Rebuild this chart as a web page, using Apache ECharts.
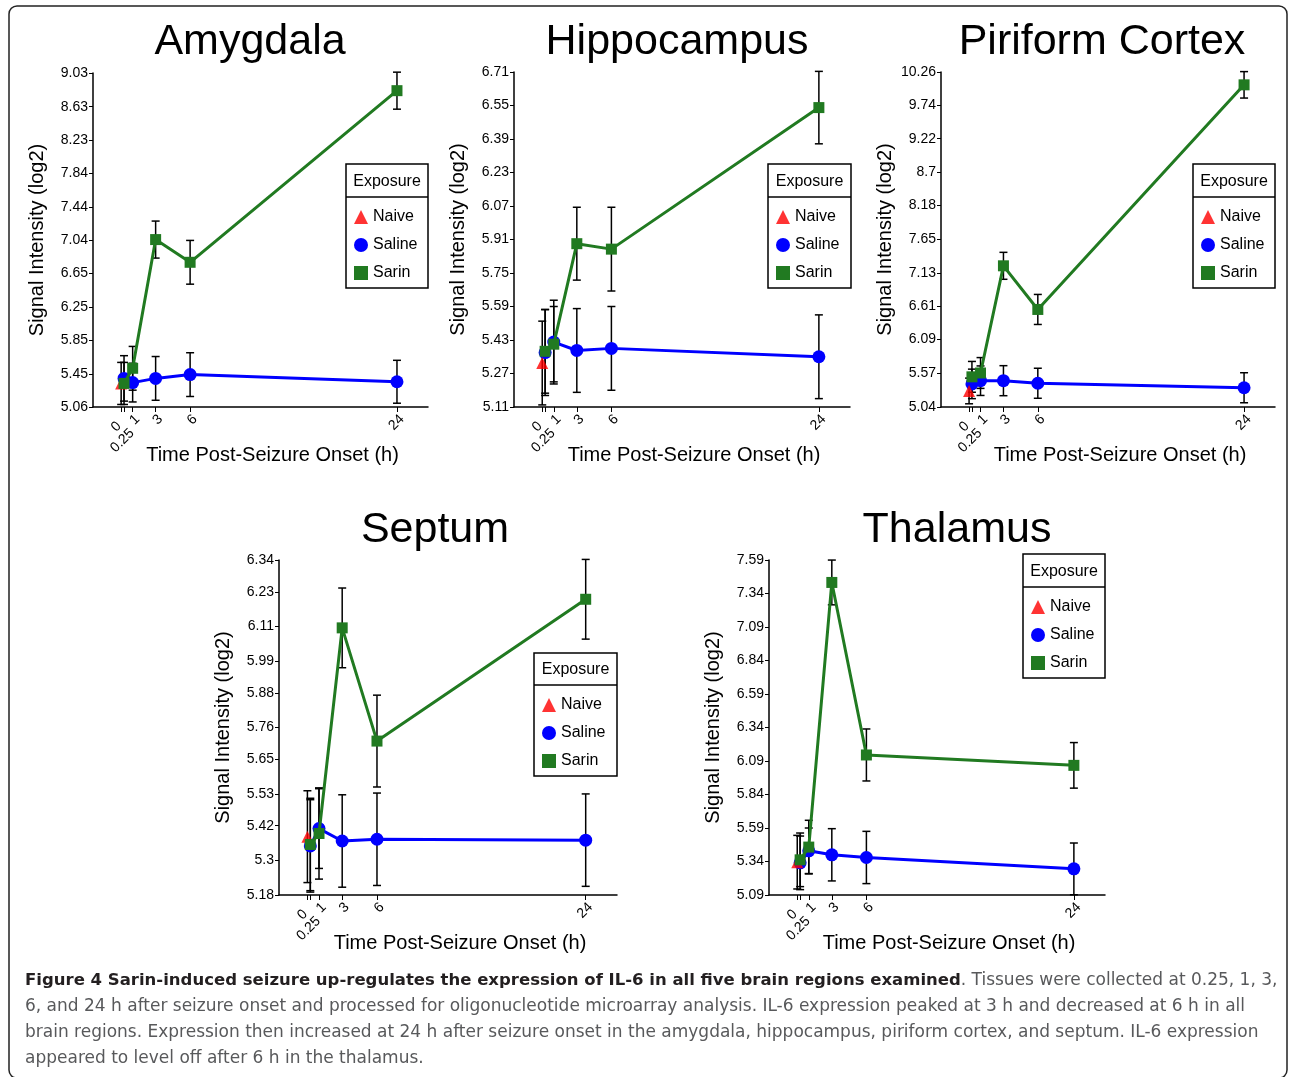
<!DOCTYPE html>
<html>
<head>
<meta charset="utf-8">
<script src="https://cdn.jsdelivr.net/npm/echarts@6/dist/echarts.min.js"></script>
<style>
  html, body { margin: 0; padding: 0; background: #fff; }
  #chart { width: 1290px; height: 1077px; }
</style>
</head>
<body>
<div id="chart"></div>
<script>
// ---- data ----
var regions = ["Amygdala", "Hippocampus", "Piriform Cortex", "Septum", "Thalamus"];
var groups = ["Naive", "Saline", "Sarin"];
var times = [0.25, 1, 3, 6, 24];
var xTicks = [0, 0.25, 1, 3, 6, 24];
var xLabelsMain = [0, 1, 3, 6, 24];
var xLabelsLow = [0.25];   // drawn a bit lower, as in the figure

var yTicksAmygdala = [5.06, 5.45, 5.85, 6.25, 6.65, 7.04, 7.44, 7.84, 8.23, 8.63, 9.03];
var yTicksHippocampus = [5.11, 5.27, 5.43, 5.59, 5.75, 5.91, 6.07, 6.23, 6.39, 6.55, 6.71];
var yTicksPiriform = [5.04, 5.57, 6.09, 6.61, 7.13, 7.65, 8.18, 8.7, 9.22, 9.74, 10.26];
var yTicksSeptum = [5.18, 5.3, 5.42, 5.53, 5.65, 5.76, 5.88, 5.99, 6.11, 6.23, 6.34];
var yTicksThalamus = [5.09, 5.34, 5.59, 5.84, 6.09, 6.34, 6.59, 6.84, 7.09, 7.34, 7.59];

// naive: one value at time 0 per region
var naiveMean = [5.34, 5.32, 5.29, 5.382, 5.335];
var naiveErr = [0.25, 0.2, 0.2, 0.159, 0.2];

var salineAmygdala = [5.40, 5.35, 5.40, 5.445, 5.36];
var salineErrAmygdala = [0.27, 0.23, 0.26, 0.26, 0.255];
var sarinAmygdala = [5.34, 5.52, 7.05, 6.78, 8.82];
var sarinErrAmygdala = [0.25, 0.26, 0.22, 0.26, 0.22];

var salineHippocampus = [5.37, 5.42, 5.38, 5.39, 5.35];
var salineErrHippocampus = [0.205, 0.2, 0.2, 0.2, 0.2];
var sarinHippocampus = [5.376, 5.41, 5.89, 5.864, 6.54];
var sarinErrHippocampus = [0.2, 0.18, 0.174, 0.2, 0.173];

var salinePiriform = [5.40, 5.45, 5.45, 5.41, 5.34];
var salineErrPiriform = [0.23, 0.23, 0.234, 0.234, 0.234];
var sarinPiriform = [5.51, 5.57, 7.24, 6.56, 10.06];
var sarinErrPiriform = [0.24, 0.24, 0.21, 0.234, 0.206];

var salineSeptum = [5.35, 5.41, 5.367, 5.373, 5.37];
var salineErrSeptum = [0.16, 0.138, 0.16, 0.16, 0.16];
var sarinSeptum = [5.355, 5.393, 6.105, 5.713, 6.204];
var sarinErrSeptum = [0.16, 0.158, 0.138, 0.159, 0.138];

var salineThalamus = [5.33, 5.42, 5.39, 5.37, 5.285];
var salineErrThalamus = [0.2, 0.17, 0.195, 0.195, 0.193];
var sarinThalamus = [5.3525, 5.4475, 7.4225, 6.135, 6.0575];
var sarinErrThalamus = [0.2, 0.2, 0.167, 0.194, 0.17];

var yTicksAll = [yTicksAmygdala, yTicksHippocampus, yTicksPiriform, yTicksSeptum, yTicksThalamus];
var salineAll = [salineAmygdala, salineHippocampus, salinePiriform, salineSeptum, salineThalamus];
var salineErrAll = [salineErrAmygdala, salineErrHippocampus, salineErrPiriform, salineErrSeptum, salineErrThalamus];
var sarinAll = [sarinAmygdala, sarinHippocampus, sarinPiriform, sarinSeptum, sarinThalamus];
var sarinErrAll = [sarinErrAmygdala, sarinErrHippocampus, sarinErrPiriform, sarinErrSeptum, sarinErrThalamus];

var captionBold = "Figure 4 Sarin-induced seizure up-regulates the expression of IL-6 in all five brain regions examined";
var captionLines = [
  ". Tissues were collected at 0.25, 1, 3,",
  "6, and 24 h after seizure onset and processed for oligonucleotide microarray analysis. IL-6 expression peaked at 3 h and decreased at 6 h in all",
  "brain regions. Expression then increased at 24 h after seizure onset in the amygdala, hippocampus, piriform cortex, and septum. IL-6 expression",
  "appeared to level off after 6 h in the thalamus."
];

// ---- layout (pixels) ----
var panels = [
  { left: 93, right: 428, top: 73, bottom: 407, titleX: 250, titleY: 42, legend: [346, 164, 428, 288, 197] },
  { left: 514, right: 850, top: 72, bottom: 407, titleX: 677, titleY: 42, legend: [768, 164, 851, 288, 197] },
  { left: 941, right: 1275, top: 72, bottom: 407, titleX: 1102, titleY: 42, legend: [1193, 164, 1275, 288, 197] },
  { left: 279, right: 617, top: 560, bottom: 895, titleX: 435, titleY: 530, legend: [534, 653, 617, 776, 685] },
  { left: 769, right: 1105, top: 560, bottom: 895, titleX: 957, titleY: 530, legend: [1023, 554, 1105, 678, 587] }
];

var GREEN = "#217a21";
var BLUE = "#0000ff";
var RED = "#ff0000";
var FONT = "Liberation Sans";
var X_MIN = -2.45, X_MAX = 26.7;
var LOW_LABEL_SHIFT = 0.26;  // nudges the lower label slightly right

var W = 1290, H = 1077;
var grids = [], xAxes = [], yAxes = [], series = [], legends = [], graphics = [];

function errorBarSeries(idx, data) {
  return {
    type: "custom",
    xAxisIndex: idx * 2,
    yAxisIndex: idx,
    z: 1,
    silent: true,
    data: data,
    renderItem: function (params, api) {
      var x = api.value(0);
      var lo = api.coord([x, api.value(1)]);
      var hi = api.coord([x, api.value(2)]);
      var hw = 4;
      var st = { stroke: "#000", lineWidth: 1.5 };
      return {
        type: "group",
        children: [
          { type: "line", shape: { x1: lo[0], y1: lo[1], x2: hi[0], y2: hi[1] }, style: st },
          { type: "line", shape: { x1: lo[0] - hw, y1: lo[1], x2: lo[0] + hw, y2: lo[1] }, style: st },
          { type: "line", shape: { x1: hi[0] - hw, y1: hi[1], x2: hi[0] + hw, y2: hi[1] }, style: st }
        ]
      };
    }
  };
}

var xLabelBase = {
  rotate: 45, fontSize: 14, color: "#000", fontFamily: FONT, margin: 5,
  verticalAlign: "top", hideOverlap: false,
  formatter: function (v) { return v === 0 ? "{z|0}" : String(v); },
  rich: { z: { fontSize: 14, color: "#000", fontFamily: FONT, padding: [0, 10, 0, 0] } }
};

panels.forEach(function (p, i) {
  var ticks = yTicksAll[i];
  grids.push({ left: p.left, top: p.top, width: p.right - p.left, height: p.bottom - p.top, containLabel: false });
  // main x axis: line, ticks, most labels, name
  xAxes.push({
    type: "value", gridIndex: i, position: "bottom", min: X_MIN, max: X_MAX,
    name: "Time Post-Seizure Onset (h)", nameLocation: "middle", nameGap: 38,
    nameTextStyle: { fontSize: 20, color: "#000", fontFamily: FONT, padding: [0, 0, 0, 24] },
    axisLine: { onZero: false, lineStyle: { color: "#000", width: 1.5 } },
    axisTick: { customValues: xTicks, length: 5, lineStyle: { color: "#000" } },
    axisLabel: Object.assign({ customValues: xLabelsMain }, xLabelBase),
    splitLine: { show: false }
  });
  // companion x axis carrying only the lower "0.25" label
  xAxes.push({
    type: "value", gridIndex: i, position: "bottom",
    min: X_MIN - LOW_LABEL_SHIFT, max: X_MAX - LOW_LABEL_SHIFT,
    axisLine: { show: false, onZero: false },
    axisTick: { show: false },
    axisLabel: Object.assign({}, xLabelBase, { customValues: xLabelsLow, margin: 19 }),
    splitLine: { show: false }
  });
  yAxes.push({
    type: "value", gridIndex: i, min: ticks[0], max: ticks[ticks.length - 1],
    name: "Signal Intensity (log2)", nameLocation: "middle", nameGap: 46,
    nameTextStyle: { fontSize: 20, color: "#000", fontFamily: FONT },
    axisLine: { show: true, onZero: false, lineStyle: { color: "#000", width: 1.5 } },
    axisTick: { show: true, customValues: ticks, length: 4, lineStyle: { color: "#000" } },
    axisLabel: { customValues: ticks, fontSize: 14, color: "#000", fontFamily: FONT, margin: 5,
      formatter: function (v) { return String(v); } },
    splitLine: { show: false }
  });

  var salineData = times.map(function (t, k) { return [t, salineAll[i][k]]; });
  var sarinData = times.map(function (t, k) { return [t, sarinAll[i][k]]; });
  var errData = [[0, naiveMean[i] - naiveErr[i], naiveMean[i] + naiveErr[i]]];
  times.forEach(function (t, k) {
    errData.push([t, salineAll[i][k] - salineErrAll[i][k], salineAll[i][k] + salineErrAll[i][k]]);
    errData.push([t, sarinAll[i][k] - sarinErrAll[i][k], sarinAll[i][k] + sarinErrAll[i][k]]);
  });

  series.push(errorBarSeries(i, errData));
  series.push({
    name: "Naive", type: "scatter", xAxisIndex: i * 2, yAxisIndex: i, z: 3,
    symbol: "triangle", symbolSize: 12, itemStyle: { color: RED },
    data: [[0, naiveMean[i]]]
  });
  series.push({
    name: "Saline", type: "line", xAxisIndex: i * 2, yAxisIndex: i, z: 2,
    symbol: "circle", symbolSize: 13, showAllSymbol: true,
    lineStyle: { color: BLUE, width: 3 }, itemStyle: { color: BLUE },
    data: salineData
  });
  series.push({
    name: "Sarin", type: "line", xAxisIndex: i * 2, yAxisIndex: i, z: 4,
    symbol: "rect", symbolSize: 11, showAllSymbol: true,
    lineStyle: { color: GREEN, width: 3 }, itemStyle: { color: GREEN },
    data: sarinData
  });

  var lg = p.legend;
  legends.push({
    orient: "vertical", left: lg[0] + 8, top: lg[4] + 12, padding: 0,
    itemWidth: 14, itemHeight: 14, itemGap: 12, selectedMode: false,
    textStyle: { fontSize: 16, color: "#000", fontFamily: FONT },
    data: [
      { name: "Naive", icon: "triangle" },
      { name: "Saline", icon: "circle" },
      { name: "Sarin", icon: "rect" }
    ]
  });

  graphics.push({
    type: "text", x: p.titleX, y: p.titleY,
    style: { text: regions[i], fontSize: 43, fontFamily: FONT, fill: "#000", textAlign: "center", textVerticalAlign: "middle" }
  });
  graphics.push({
    type: "rect", shape: { x: lg[0], y: lg[1], width: lg[2] - lg[0], height: lg[3] - lg[1] },
    style: { fill: "#fff", stroke: "#000", lineWidth: 1.5 }, z: -1
  });
  graphics.push({
    type: "line", shape: { x1: lg[0], y1: lg[4], x2: lg[2], y2: lg[4] },
    style: { stroke: "#000", lineWidth: 1.5 }
  });
  graphics.push({
    type: "text", x: (lg[0] + lg[2]) / 2, y: (lg[1] + lg[4]) / 2 + 1,
    style: { text: "Exposure", fontSize: 16, fontFamily: FONT, fill: "#000", textAlign: "center", textVerticalAlign: "middle" }
  });
});

// outer frame
graphics.push({
  type: "rect", shape: { x: 9, y: 6, width: 1278, height: 1072, r: 8 },
  style: { fill: null, stroke: "#222", lineWidth: 1.5 }, z: -2
});

// caption, fitted to the reference line width
var CAP_FONT = "DejaVu Sans Condensed";
var cv = document.createElement("canvas").getContext("2d");
cv.font = "17px " + CAP_FONT;
var capScale = 1220 / cv.measureText(captionLines[1]).width;
var capChildren = [];
capChildren.push({
  type: "text", x: 0, y: 0,
  style: {
    text: "{b|" + captionBold + "}{n|" + captionLines[0] + "}",
    textVerticalAlign: "middle",
    rich: {
      b: { fontSize: 16.5, fontWeight: "bold", fill: "#231f20", fontFamily: CAP_FONT },
      n: { fontSize: 17, fill: "#58595b", fontFamily: CAP_FONT }
    }
  }
});
for (var li = 1; li < captionLines.length; li++) {
  capChildren.push({
    type: "text", x: 0, y: li * 26,
    style: { text: captionLines[li], fontSize: 17, fill: "#58595b", fontFamily: CAP_FONT, textVerticalAlign: "middle" }
  });
}
graphics.push({ type: "group", x: 25, y: 981, scaleX: capScale, children: capChildren });

var chart = echarts.init(document.getElementById("chart"), null, { renderer: "canvas", width: W, height: H });
chart.setOption({
  animation: false,
  backgroundColor: "#fff",
  grid: grids,
  xAxis: xAxes,
  yAxis: yAxes,
  legend: legends,
  series: series,
  graphic: graphics
});
</script>
</body>
</html>
